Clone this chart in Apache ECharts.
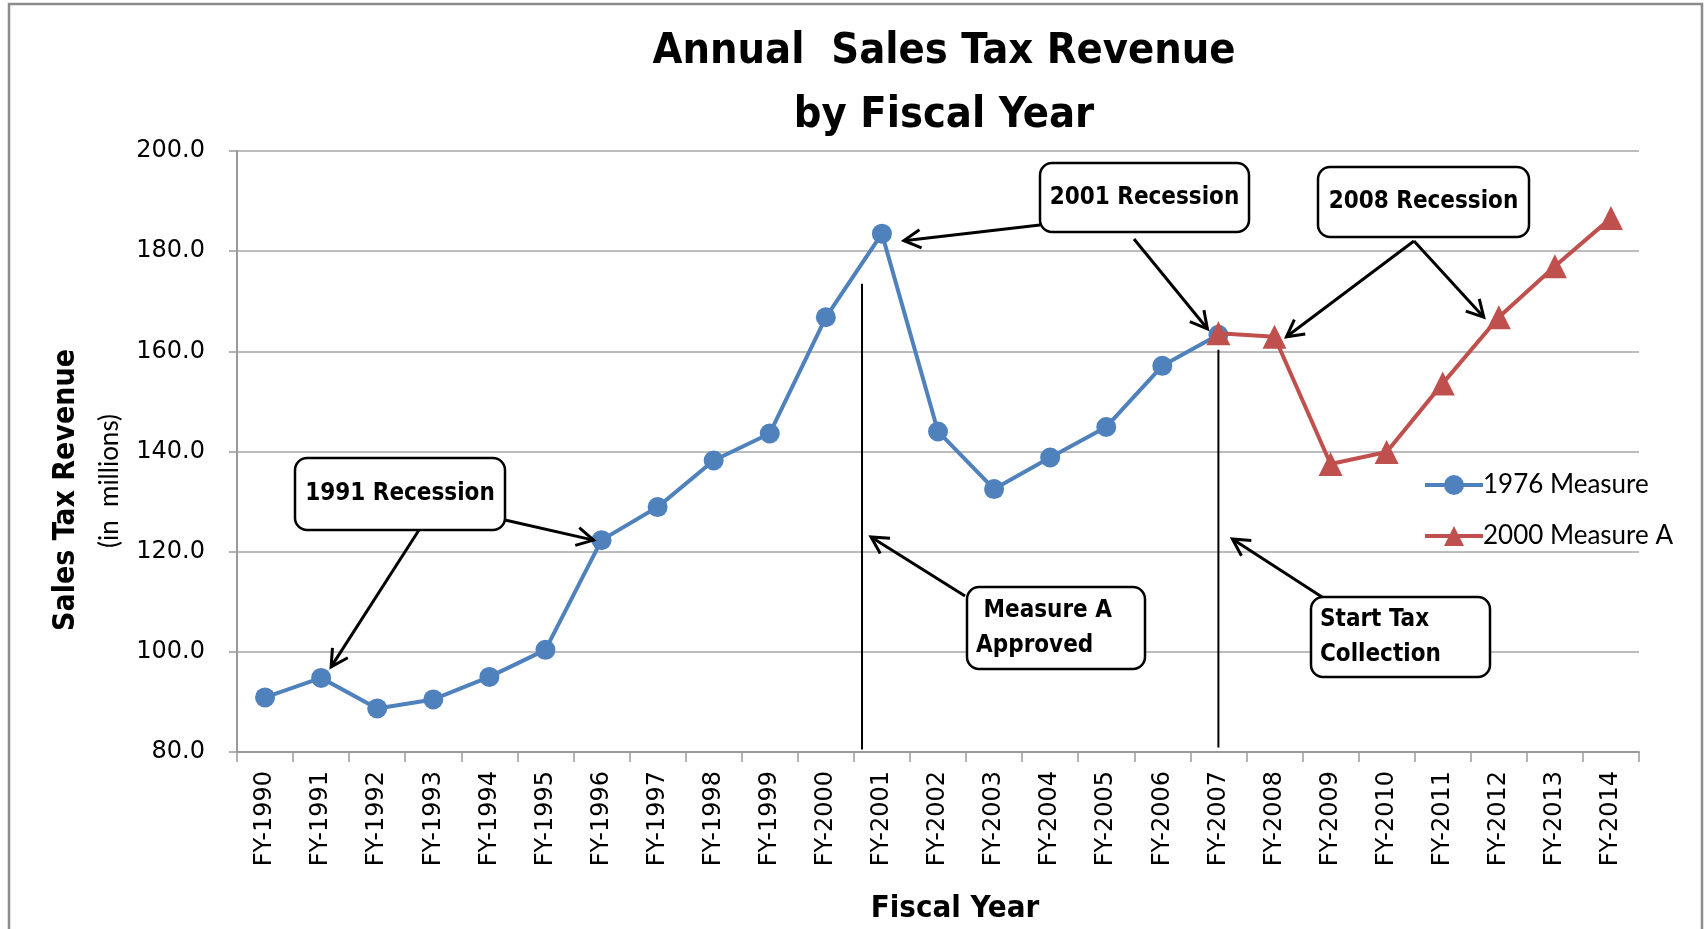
<!DOCTYPE html>
<html><head><meta charset="utf-8">
<script src="https://cdn.jsdelivr.net/npm/echarts@6/dist/echarts.min.js"></script>
<style>html,body{margin:0;padding:0;background:#fff}#c{width:1705px;height:929px}</style>
</head><body><div id="c"></div>
<script>
// ---- data ----
const categories = ['FY-1990','FY-1991','FY-1992','FY-1993','FY-1994','FY-1995','FY-1996','FY-1997','FY-1998','FY-1999','FY-2000','FY-2001','FY-2002','FY-2003','FY-2004','FY-2005','FY-2006','FY-2007','FY-2008','FY-2009','FY-2010','FY-2011','FY-2012','FY-2013','FY-2014'];
const measure1976 = [90.9, 94.8, 88.7, 90.5, 95.0, 100.4, 122.3, 128.9, 138.2, 143.6, 166.8, 183.5, 144.0, 132.5, 138.8, 144.9, 157.1, 163.3, null, null, null, null, null, null, null];
const measureA2000 = [null, null, null, null, null, null, null, null, null, null, null, null, null, null, null, null, null, 163.6, 162.9, 137.5, 139.9, 153.6, 166.8, 177.0, 186.6];
const seriesNames = ['1976 Measure', '2000 Measure A'];
const yMin = 80, yMax = 200, yStep = 20;

const titleText = 'Annual  Sales Tax Revenue\nby Fiscal Year';
const yTitle = 'Sales Tax Revenue';
const ySubTitle = '(in  millions)';
const xTitle = 'Fiscal Year';

const BOLD_FONT = "'Liberation Sans Narrow', 'DejaVu Sans Condensed', Lato, sans-serif";
const REG_FONT = "Lato, 'Open Sans', sans-serif";
const AXIS_FONT = "'DejaVu Sans', Verdana, sans-serif";

const chart = echarts.init(document.getElementById('c'), null, {renderer: 'canvas'});
const option = {
  backgroundColor: '#fff',
  animation: false,
  title: {
    text: titleText,
    left: 939, top: 15, textAlign: 'center',
    textStyle: {fontFamily: BOLD_FONT, fontWeight: 'bold', fontSize: 43, lineHeight: 64, color: '#000'}
  },
  grid: {left: 237, right: 66, top: 151, bottom: 177, containLabel: false},
  legend: {
    orient: 'vertical', left: 1418, top: 467, itemWidth: 58, itemHeight: 25, itemGap: 25,
    lineStyle: {width: 4},
    textStyle: {fontFamily: REG_FONT, fontSize: 26, color: '#000', padding: [0,0,0,-5]},
    data: seriesNames
  },
  xAxis: {
    type: 'category', data: categories, boundaryGap: true,
    name: xTitle, nameLocation: 'middle', nameGap: 141,
    nameTextStyle: {fontFamily: BOLD_FONT, fontWeight: 'bold', fontSize: 31, color: '#000', padding: [0,0,0,34]},
    axisLine: {lineStyle: {color: '#9a9a9a', width: 2}},
    axisTick: {show: true, alignWithLabel: false, length: 10, lineStyle: {color: '#9a9a9a', width: 1.5}},
    axisLabel: {rotate: 90, margin: 19, fontFamily: AXIS_FONT, fontSize: 24, color: '#000', interval: 0}
  },
  yAxis: {
    type: 'value', min: yMin, max: yMax, interval: yStep,
    axisLine: {show: true, lineStyle: {color: '#9a9a9a', width: 2}},
    axisTick: {show: true, length: 8, lineStyle: {color: '#9a9a9a', width: 1.5}},
    splitLine: {lineStyle: {color: '#a6a6a6', width: 1.5}},
    axisLabel: {margin: 32, fontFamily: AXIS_FONT, fontSize: 24, color: '#000', formatter: v => v.toFixed(1)}
  },
  series: [
    {name: seriesNames[0], type: 'line', data: measure1976, symbol: 'circle', symbolSize: 20,
     lineStyle: {color: '#4F81BD', width: 4}, itemStyle: {color: '#4F81BD'}, z: 3},
    {name: seriesNames[1], type: 'line', data: measureA2000, symbol: 'triangle', symbolSize: 24,
     lineStyle: {color: '#C0504D', width: 4}, itemStyle: {color: '#C0504D'}, z: 4}
  ]
};
chart.setOption(option);

// ---- annotations (layout) ----
function px(i, v) { return chart.convertToPixel({gridIndex: 0}, [i, v]); }
const G = [];
G.push({type: 'rect', shape: {x: 9, y: 4, width: 1693, height: 960}, style: {fill: 'none', stroke: '#8c8c8c', lineWidth: 2.5}, silent: true, z: 0});

function arrow(x1, y1, x2, y2) {
  const a = Math.atan2(y2 - y1, x2 - x1), L = 19, w = 0.5;
  G.push({type: 'line', shape: {x1, y1, x2, y2}, style: {stroke: '#000', lineWidth: 3}, z: 50});
  G.push({type: 'polyline', shape: {points: [
    [x2 - L * Math.cos(a - w), y2 - L * Math.sin(a - w)], [x2, y2],
    [x2 - L * Math.cos(a + w), y2 - L * Math.sin(a + w)]]}, style: {stroke: '#000', lineWidth: 3, fill: null}, z: 50});
}
function box(x, y, w, h, text, align) {
  G.push({type: 'rect', shape: {x, y, width: w, height: h, r: 12}, style: {fill: '#fff', stroke: '#000', lineWidth: 2.5}, z: 60});
  G.push({type: 'text', x: align === 'left' ? x + 9 : x + w / 2, y: y + h / 2, z: 61,
    style: {text, fill: '#000', font: "bold 24px " + BOLD_FONT, align: align || 'center', verticalAlign: 'middle', lineHeight: 35}});
}
function vline(i0, frac, vTop, vBot) {
  const a = px(i0, vTop), b = px(i0 + 1, vTop), c = px(i0, vBot);
  const x = a[0] + (b[0] - a[0]) * frac;
  G.push({type: 'line', shape: {x1: x, y1: a[1], x2: x, y2: c[1]}, style: {stroke: '#000', lineWidth: 2}, z: 40});
  return x;
}
const lx1 = vline(10, 0.645, 173.5, 80.5);
const lx2 = vline(17, 0, 160.3, 80.9);

let p;
// 1991 recession
p = px(1, measure1976[1]); arrow(419, 530, p[0] + 10, p[1] - 11);
p = px(6, measure1976[6]); arrow(505, 520, p[0] - 8, p[1]);
box(295, 458, 210, 72, '1991 Recession');
// 2001 recession
p = px(11, measure1976[11]); arrow(1040, 225, p[0] + 22, p[1] + 7);
p = px(17, measure1976[17]); arrow(1134, 239, p[0] - 11, p[1] - 6);
box(1040, 163, 209, 69, '2001 Recession');
// 2008 recession
p = px(18, measureA2000[18]); arrow(1414, 241, p[0] + 12, p[1]);
p = px(22, measureA2000[22]); arrow(1414, 241, p[0] - 15, p[1]);
box(1318, 167, 211, 70, '2008 Recession');
// Measure A approved
arrow(965, 596, lx1 + 9, 537);
box(967, 587, 178, 82, ' Measure A\nApproved', 'left');
// Start tax collection
arrow(1322, 597, lx2 + 14, 539);
box(1311, 597, 179, 80, 'Start Tax\nCollection', 'left');

// Y axis title
G.push({type: 'text', x: 66, y: 490, rotation: Math.PI / 2, z: 10,
  style: {text: yTitle, font: "bold 30px " + BOLD_FONT, fill: '#000', align: 'center', verticalAlign: 'middle'}});
G.push({type: 'text', x: 110, y: 481, rotation: Math.PI / 2, z: 10,
  style: {text: ySubTitle, font: "26px " + REG_FONT, fill: '#000', align: 'center', verticalAlign: 'middle'}});

chart.setOption({graphic: G});
</script></body></html>
